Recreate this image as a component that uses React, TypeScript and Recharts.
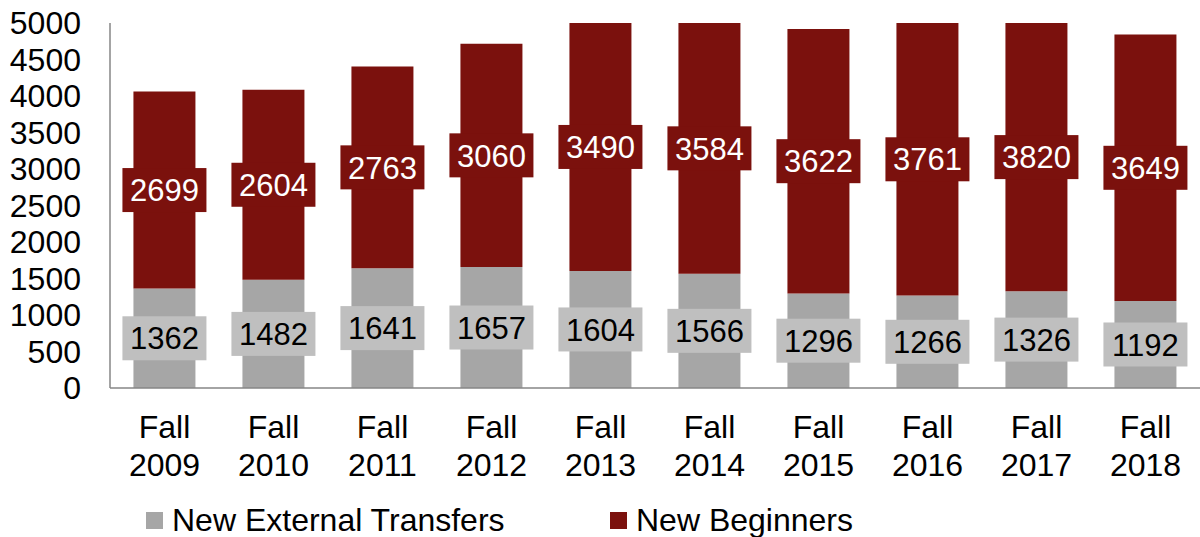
import React from 'react';
import { BarChart, Bar, XAxis, YAxis, Legend, LabelList } from 'recharts';

const categories = ['Fall 2009', 'Fall 2010', 'Fall 2011', 'Fall 2012', 'Fall 2013', 'Fall 2014', 'Fall 2015', 'Fall 2016', 'Fall 2017', 'Fall 2018'];
const transfers = [1362, 1482, 1641, 1657, 1604, 1566, 1296, 1266, 1326, 1192];
const beginners = [2699, 2604, 2763, 3060, 3490, 3584, 3622, 3761, 3820, 3649];
const yTicks = [0, 500, 1000, 1500, 2000, 2500, 3000, 3500, 4000, 4500, 5000];

const data = categories.map((name, i) => ({
    name,
    transfers: transfers[i],
    beginners: beginners[i],
}));

const FONT = '"Liberation Sans", Arial, sans-serif';
const GRAY = '#a6a6a6';
const GRAY_BOX = '#bfbfbf';
const RED = '#7b110d';

const makeLabel = (fill: string, color: string) => (props: any) => {
    const { x, y, width, height, value } = props;
    const cx = Number(x) + Number(width) / 2;
    const cy = Number(y) + Number(height) / 2;
    return (
        <g>
            <rect x={cx - 42} y={cy - 22} width={84} height={44} fill={fill} />
            <text x={cx} y={cy} dy="0.36em" textAnchor="middle" fontSize={31} fontFamily={FONT} fill={color}>
                {value}
            </text>
        </g>
    );
};

const CategoryTick = (props: any) => {
    const { x, y, payload } = props;
    const [first, second] = String(payload.value).split(' ');
    return (
        <g>
            <text x={x} y={y + 50} textAnchor="middle" fontSize={32} fontFamily={FONT} fill="#000">{first}</text>
            <text x={x} y={y + 88} textAnchor="middle" fontSize={32} fontFamily={FONT} fill="#000">{second}</text>
        </g>
    );
};

const LegendContent = () => (
    <div style={{ position: 'relative', width: 1200, height: 40, fontFamily: FONT, fontSize: 32, color: '#000' }}>
        <div style={{ position: 'absolute', left: 146, top: 0, height: 40, display: 'flex', alignItems: 'center' }}>
            <span style={{ width: 17, height: 17, background: GRAY, display: 'inline-block', marginRight: 9 }} />
            <span style={{ lineHeight: '40px' }}>New External Transfers</span>
        </div>
        <div style={{ position: 'absolute', left: 610, top: 0, height: 40, display: 'flex', alignItems: 'center' }}>
            <span style={{ width: 17, height: 17, background: RED, display: 'inline-block', marginRight: 9 }} />
            <span style={{ lineHeight: '40px' }}>New Beginners</span>
        </div>
    </div>
);

const App: React.FC = () => {
    return (
        <div style={{ position: 'absolute', left: 0, top: 0, width: 1200, height: 537, background: '#fff' }}>
            <BarChart width={1200} height={537} data={data} margin={{ top: 23, right: 0, left: 0, bottom: 0 }} barCategoryGap="21.5%">
                <XAxis
                    dataKey="name"
                    height={149}
                    tick={<CategoryTick />}
                    tickLine={false}
                    tickSize={0}
                    tickMargin={0}
                    interval={0}
                    axisLine={{ stroke: '#868686', strokeWidth: 1.5 }}
                />
                <YAxis
                    width={110}
                    domain={[0, 5000]}
                    ticks={yTicks}
                    allowDataOverflow
                    interval={0}
                    tickLine={false}
                    tickSize={0}
                    tickMargin={29}
                    tick={{ fontSize: 32, fontFamily: FONT, fill: '#000' }}
                    axisLine={{ stroke: '#868686', strokeWidth: 1.5 }}
                />
                <Legend
                    layout="horizontal"
                    verticalAlign="middle"
                    align="center"
                    content={<LegendContent />}
                    wrapperStyle={{ top: 500, left: 0, width: 1200, height: 40 }}
                />
                <Bar dataKey="transfers" stackId="a" fill={GRAY} isAnimationActive={false}>
                    <LabelList dataKey="transfers" content={makeLabel(GRAY_BOX, '#000')} />
                </Bar>
                <Bar dataKey="beginners" stackId="a" fill={RED} isAnimationActive={false}>
                    <LabelList dataKey="beginners" content={makeLabel(RED, '#fff')} />
                </Bar>
            </BarChart>
        </div>
    );
};

export default App;
